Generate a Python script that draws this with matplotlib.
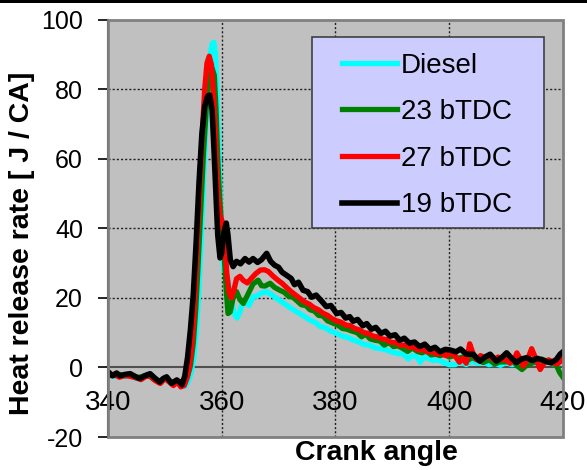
import matplotlib
matplotlib.use('Agg')
import matplotlib.pyplot as plt
from matplotlib.patches import Rectangle

plt.rcParams['font.family'] = ['Liberation Sans', 'DejaVu Sans']

# crank angle / heat release rate, one set of points per injection timing
diesel_x = [340, 341, 342, 343, 344, 345, 346, 347, 348, 349, 350, 351, 352, 353.0, 353.6,
            354.1, 354.6, 355.1, 355.5, 355.9, 356.4, 356.9, 357.4, 357.9, 358.3, 358.6, 358.9,
            359.2, 359.5, 359.8, 360.1, 360.4, 360.8, 361.2, 361.7, 362.2, 362.7, 363.2, 363.7,
            364.2, 364.8, 365.5, 366.2, 367.0, 367.9, 368.7, 369.5, 370.4, 371.4, 372.4, 373.4,
            374.4, 375.5, 376.4, 377.3, 378.2, 379.2, 380.2, 381.2, 382.2, 383.1, 384.0, 385.0,
            386.0, 387.0, 388.0, 389.0, 390.0, 391.0, 392.0, 392.8, 393.5, 394.3, 394.9, 395.6,
            396.4, 397.2, 398.0, 399.0, 400.0, 401.0, 402.0, 403.0, 404.0, 405.0, 406.0, 407.0,
            408.0, 409.0, 410.0, 411.0, 412.0, 413.0, 414.0, 415.0, 416.0, 417.0, 418.0, 419.0,
            419.6, 420.0]
diesel_y = [-1.8, -2.6, -2.2, -2.6, -2.4, -3.2, -2.8, -2.4, -3.2, -4.0, -3.4, -4.4, -4.2, -5.0, -5.4,
            -4.0, -1.5, 3, 10, 20, 38, 58, 76, 89, 93, 93.5, 90,
            78, 62, 45, 32, 28, 27, 24, 19, 15.5, 14.2, 16, 19,
            18.5, 17.8, 20.3, 20.6, 21.4, 21.8, 21.0, 20.0, 19.0, 17.9, 16.8, 15.8,
            14.8, 13.6, 13.0, 11.8, 11.4, 10.4, 9.8, 9.0, 8.6, 7.9, 7.4, 6.6,
            6.4, 5.6, 5.4, 5.0, 4.4, 4.0, 3.8, 2.4, 3.4, 3.1, 1.5, 3.0,
            2.6, 2.0, 2.2, 1.4, 0.8, 0.8, 1.6, 0.8, 1.8, 1.2, 1.6, 0.8,
            1.2, 0.6, 1.4, 0.8, 1.0, 0.4, 1.2, 1.4, 0.8, 1.8, 1.2, 0.6,
            2.0, 4.0]

btdc23_x = [340, 341, 342, 343, 344, 345, 346, 347, 348, 349, 350, 351, 352, 352.8, 353.5,
            354.0, 354.5, 355.0, 355.4, 355.8, 356.3, 356.8, 357.3, 357.8, 358.3, 358.7, 359.0,
            359.3, 359.6, 360.0, 360.4, 360.8, 361.1, 361.5, 362.0, 362.6, 363.2, 363.8, 364.6,
            365.5, 366.4, 367.0, 367.6, 368.5, 369.3, 370.2, 371.0, 371.8, 372.5, 373.2, 374.0,
            374.8, 375.5, 376.3, 377.0, 377.8, 378.6, 379.6, 380.4, 381.2, 382.0, 383.0, 383.8,
            384.6, 385.3, 386.1, 387.0, 387.8, 388.6, 389.4, 390.2, 391.0, 391.9, 392.7, 393.5,
            394.4, 395.2, 396.0, 396.8, 397.6, 398.4, 399.2, 400.0, 400.8, 401.6, 402.4, 403.2,
            404.0, 405.0, 406.0, 407.0, 408.0, 409.0, 410.0, 411.0, 412.0, 412.8, 413.6, 414.5,
            415.5, 416.3, 417.2, 418.0, 418.8, 419.4, 420.0]
btdc23_y = [-1.8, -2.2, -2.0, -2.4, -2.2, -3.0, -2.6, -2.0, -3.4, -4.0, -3.0, -4.4, -3.8, -5.2, -4.6,
            -2.5, 0.5, 7, 16, 28, 45, 62, 75, 83, 86, 84, 74,
            60, 50, 40, 33, 22, 15.5, 16, 20, 21.8, 19.5, 18.4, 21,
            24, 25.1, 23.5, 23.4, 24.2, 23.0, 22.2, 21.6, 20.4, 20.2, 19.2, 18.0,
            17.8, 16.6, 16.2, 15.0, 14.8, 13.4, 12.7, 12.2, 11.2, 11.0, 10.4, 10.0,
            8.8, 9.6, 8.2, 7.8, 7.6, 6.4, 7.2, 6.0, 6.2, 5.4, 4.6, 5.6,
            4.6, 4.2, 4.8, 3.6, 3.8, 3.4, 3.8, 3.0, 3.4, 2.6, 3.0, 2.0,
            2.8, 2.2, 1.4, 2.2, 1.0, 1.6, 1.6, 2.2, 0.4, -0.6, 0.6, 1.2,
            1.8, 2.4, 1.8, 1.2, 0.8, -1.4, -2.8]

btdc27_x = [340, 341, 342, 343, 344, 345, 345.8, 346.6, 347.5, 348.3, 349.2, 350.0, 350.8, 351.5,
            352.2, 352.8, 353.4, 353.9, 354.3, 354.7, 355.1, 355.5, 356.0, 356.5, 357.0, 357.4,
            357.8, 358.2, 358.6, 359.0, 359.3, 359.7, 360.1, 360.5, 360.9, 361.3, 361.7, 362.1,
            362.6, 363.2, 363.8, 364.5, 365.2, 366.0, 366.8, 367.5, 368.2, 369.0, 369.8, 370.6,
            371.4, 372.2, 373.0, 373.8, 374.6, 375.4, 376.2, 377.0, 377.8, 378.6, 379.4, 380.2,
            381.0, 381.8, 382.6, 383.4, 384.2, 385.0, 385.8, 386.6, 387.4, 388.2, 389.0, 389.8,
            390.6, 391.4, 392.2, 393.0, 393.8, 394.6, 395.4, 396.2, 397.0, 397.8, 398.6, 399.4,
            400.2, 401.0, 401.8, 402.4, 403.0, 403.6, 404.2, 404.8, 405.5, 406.3, 407.0, 407.8,
            408.6, 409.4, 410.0, 410.7, 411.3, 411.9, 412.5, 413.0, 413.7, 414.5, 415.2, 416.0,
            416.8, 417.5, 418.3, 419.0, 419.6, 420.0]
btdc27_y = [-2.5, -2.0, -2.8, -2.3, -2.6, -3.0, -3.5, -2.6, -2.5, -3.8, -4.6, -3.2, -4.2, -5.2,
            -4.2, -5.6, -5.2, -3.0, 0, 5, 14, 27, 47, 65, 80, 87.5,
            89.5, 87, 77, 62, 50, 43.5, 42, 36, 27, 21.5, 20, 22,
            25.5, 26.2, 25, 24.3, 25.6, 27, 28, 28.1, 27.6, 26.3, 25.2, 24.2,
            23.0, 21.8, 20.8, 19.8, 18.8, 18.2, 17.2, 16.6, 15.6, 15.0, 14.0, 13.4,
            13.0, 12.2, 12.0, 11.2, 10.8, 10.0, 9.8, 9.0, 8.8, 8.2, 8.0, 7.2,
            7.2, 6.4, 6.4, 5.8, 5.8, 5.0, 5.2, 4.4, 4.6, 3.8, 4.2, 3.4,
            4.0, 3.4, 1.5, 2.6, 1.2, 6.8, 4.0, 2.2, 3.4, 2.8, 3.4, 2.2,
            3.0, 2.2, 2.4, 1.2, 2.0, 4.2, 2.4, 0.4, 2.0, 5.4, 2.6, -0.6,
            1.6, 2.2, 1.4, 1.0, 1.8, 3.0]

btdc19_x = [340, 340.8, 341.5, 342.1, 343.0, 343.9, 344.8, 345.6, 346.5, 347.4, 348.2, 349.1,
            349.7, 350.3, 351.2, 352.1, 352.6, 353.0, 353.5, 354.0, 354.5, 355.0, 355.5, 356.0,
            356.5, 357.0, 357.5, 357.9, 358.3, 358.6, 359.0, 359.3, 359.7, 360.0, 360.4, 360.8,
            361.1, 361.5, 362.0, 362.6, 363.3, 364.1, 364.8, 365.5, 366.3, 367.0, 367.9, 368.6,
            369.3, 370.0, 370.6, 371.4, 372.2, 372.8, 373.5, 374.3, 375.1, 375.8, 376.6, 377.6,
            378.4, 379.2, 380.2, 381.0, 381.8, 382.5, 383.1, 383.9, 384.8, 385.5, 386.3, 387.1,
            388.0, 388.8, 389.6, 390.5, 391.3, 392.1, 393.0, 393.9, 394.8, 395.7, 396.6, 397.5,
            398.4, 399.3, 400.2, 401.2, 402.0, 403.0, 404.2, 405.4, 406.3, 407.2, 408.3, 409.2,
            410.1, 411.0, 411.8, 412.7, 413.6, 414.6, 415.5, 416.3, 417.2, 417.9, 418.8, 419.5,
            420.0]
btdc19_y = [-1.2, -2.4, -1.6, -2.4, -2.0, -1.8, -2.6, -3.2, -2.4, -1.8, -3.0, -4.2,
            -3.2, -2.7, -4.6, -3.6, -4.2, -5.0, -2.5, 3, 11, 21, 36, 53,
            67, 75, 78, 78.3, 74, 64, 49, 38, 31.5, 33, 39, 41.5,
            38, 31, 29, 30.5, 29.8, 31.3, 30.3, 31.3, 30.2, 31.0, 32.8, 30.5,
            29.4, 28.8, 27.4, 26.5, 25.6, 23.8, 24.5, 22.2, 21.8, 20.2, 20.8, 19.0,
            17.5, 17.8, 15.5, 15.8, 14.2, 14.6, 13.3, 13.8, 12.0, 12.6, 11.0, 11.5,
            9.8, 10.4, 9.0, 9.4, 7.8, 8.4, 7.0, 7.3, 6.0, 6.7, 5.2, 5.8,
            4.5, 5.2, 5.0, 4.5, 5.3, 3.8, 3.8, 1.8, 3.0, 3.8, 1.8, 2.8,
            4.2, 2.6, 1.4, 2.4, 2.8, 2.0, 2.6, 2.2, 1.6, 1.4, 2.2, 3.8,
            4.5]

x_ticks = [340, 360, 380, 400, 420]
y_ticks = [-20, 0, 20, 40, 60, 80, 100]


def main():
    fig = plt.figure(figsize=(5.87, 4.70), dpi=100)
    ax = fig.add_axes([0.184, 0.0702, 0.775, 0.888])
    ax.set_facecolor('#C0C0C0')

    # green first so the diesel trace sits over it near the peak
    ax.plot(btdc23_x, btdc23_y, color='#008000', lw=3.8, label='23 bTDC', zorder=3)
    ax.plot(diesel_x, diesel_y, color='#00FFFF', lw=3.8, label='Diesel', zorder=2.9)
    ax.plot(btdc27_x, btdc27_y, color='#FF0000', lw=3.8, label='27 bTDC', zorder=3.1)
    ax.plot(btdc19_x, btdc19_y, color='#000000', lw=4.0, label='19 bTDC', zorder=3.2)

    ax.set_xlim(340, 420)
    ax.set_ylim(-20, 100)
    ax.set_xticks(x_ticks)
    ax.set_yticks(y_ticks)
    ax.set_xticklabels([str(t) for t in x_ticks])
    ax.set_yticklabels([str(t) for t in y_ticks])

    # dotted grid, x axis crossing at zero
    for gx in x_ticks[1:-1]:
        ax.axvline(gx, color='#202020', lw=1, ls=(0, (1.5, 1.5)), zorder=1)
    for gy in y_ticks[2:-1]:
        ax.axhline(gy, color='#202020', lw=1, ls=(0, (1.5, 1.5)), zorder=1)

    ax.spines['bottom'].set_position(('data', 0))
    ax.spines['bottom'].set_color('#505050')
    ax.spines['bottom'].set_linewidth(1.5)
    ax.spines['bottom'].set_zorder(1.5)
    for s in ['top', 'right']:
        ax.spines[s].set_visible(False)
    ax.spines['left'].set_color('#202020')
    ax.spines['left'].set_linewidth(1.5)
    ax.add_patch(Rectangle((0, 0), 1, 1, transform=ax.transAxes, fill=False,
                           edgecolor='#808080', lw=2, clip_on=False, zorder=4))

    ax.tick_params(axis='x', length=0, pad=16, labelsize=20)
    ax.tick_params(axis='y', direction='out', length=7, width=1.2, pad=11, labelsize=18)

    ax.text(0.591, -0.038, 'Crank angle', transform=ax.transAxes, ha='center', va='center',
            fontsize=20.5, fontweight='bold')
    ax.text(-0.189, 0.465, 'Heat release rate [ J / CA]', transform=ax.transAxes, ha='center',
            va='center', rotation=90, fontsize=20.5, fontweight='bold')

    # legend box
    ax.add_patch(Rectangle((0.448, 0.5006), 0.510, 0.4575, transform=ax.transAxes,
                           facecolor='#CCCCFF', edgecolor='#404040', lw=1.2, zorder=5))
    handles, labels = ax.get_legend_handles_labels()
    order = [1, 0, 2, 3]
    leg = ax.legend([handles[i] for i in order], [labels[i] for i in order],
                    loc='upper left', bbox_to_anchor=(0.514, 0.921), frameon=False,
                    fontsize=20, borderpad=0, borderaxespad=0, handlelength=1.98,
                    handletextpad=0.15, labelspacing=0.74)
    leg.set_zorder(6)

    # thin black rule along the top edge
    fig.add_artist(Rectangle((0, 1 - 3 / 470), 1, 3 / 470, transform=fig.transFigure,
                             color='black', lw=0))

    plt.savefig('out.png', dpi=100)


if __name__ == "__main__":
    main()
